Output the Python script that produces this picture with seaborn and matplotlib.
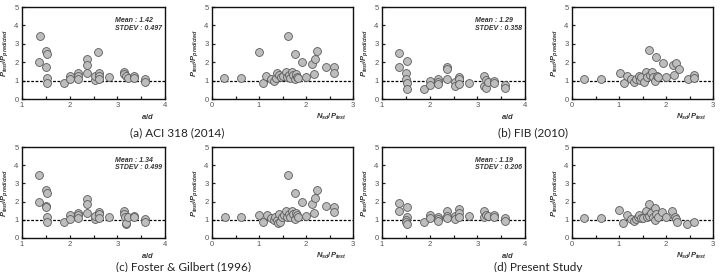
import numpy as np
import pandas as pd
import matplotlib
matplotlib.use("Agg")
import matplotlib.pyplot as plt
from matplotlib.ticker import MultipleLocator
import seaborn as sns

# a/d panels
aci_ad = [1.38, 1.36, 1.50, 1.52, 1.50, 1.53, 1.53, 1.89, 2.01, 2.01, 2.17, 2.17, 2.17,
          2.37, 2.37, 2.37, 2.53, 2.53, 2.59, 2.61, 2.61, 2.61, 2.83, 3.15, 3.15, 3.18,
          3.23, 3.34, 3.34, 3.59, 3.59]
aci_ad_ratio = [3.45, 1.99, 2.61, 2.45, 1.72, 1.15, 0.89, 0.89, 1.24, 1.06, 1.39, 1.24, 1.09,
                2.15, 1.86, 1.39, 1.02, 1.24, 2.54, 1.42, 1.24, 1.08, 1.17, 1.48, 1.35, 1.24,
                1.15, 1.24, 1.15, 1.06, 0.93]

fib_ad = [1.36, 1.36, 1.52, 1.50, 1.50, 1.52, 1.52, 1.89, 2.01, 2.01, 2.17, 2.17, 2.17,
          2.37, 2.37, 2.37, 2.53, 2.53, 2.61, 2.61, 2.61, 2.83, 3.15, 3.15, 3.18, 3.18,
          3.23, 3.34, 3.34, 3.59, 3.59]
fib_ad_ratio = [2.50, 1.73, 2.06, 1.42, 1.11, 0.88, 0.57, 0.57, 0.99, 0.77, 1.09, 0.91, 0.80,
                1.72, 1.62, 1.08, 0.93, 0.69, 1.20, 1.06, 0.84, 0.89, 1.24, 0.69, 0.62, 1.02,
                0.93, 0.99, 0.89, 0.78, 0.58]

fg_ad = [1.36, 1.35, 1.50, 1.52, 1.50, 1.50, 1.52, 1.52, 1.89, 2.01, 2.01, 2.17, 2.17, 2.17,
         2.37, 2.37, 2.37, 2.53, 2.53, 2.61, 2.61, 2.61, 2.83, 3.15, 3.15, 3.17, 3.18, 3.18,
         3.23, 3.34, 3.34, 3.59, 3.59]
fg_ad_ratio = [3.47, 2.00, 2.63, 2.46, 1.75, 1.69, 1.14, 0.86, 0.88, 1.25, 1.07, 1.40, 1.25,
               1.10, 2.15, 1.88, 1.36, 1.03, 1.21, 1.43, 1.31, 1.10, 1.18, 1.47, 1.32, 1.18,
               0.77, 0.85, 1.18, 1.21, 1.14, 1.07, 0.90]

ps_ad = [1.36, 1.35, 1.52, 1.52, 1.50, 1.50, 1.52, 1.89, 2.01, 2.01, 2.17, 2.17, 2.17,
         2.37, 2.37, 2.37, 2.53, 2.53, 2.61, 2.61, 2.61, 2.83, 3.15, 3.15, 3.18, 3.23,
         3.34, 3.34, 3.59, 3.59]
ps_ad_ratio = [1.95, 1.51, 1.69, 1.18, 0.99, 0.88, 0.79, 0.90, 1.27, 1.10, 1.18, 1.03, 0.92,
               1.51, 1.21, 1.12, 1.23, 1.03, 1.58, 1.36, 1.18, 1.21, 1.51, 1.14, 1.25, 1.21,
               1.29, 1.18, 1.10, 0.96]

# Nsd/Ptest panels
aci_n = [0.25, 0.61, 1.00, 1.09, 1.15, 1.25, 1.31, 1.36, 1.39, 1.42, 1.46, 1.52, 1.57, 1.59,
         1.62, 1.63, 1.67, 1.70, 1.73, 1.76, 1.76, 1.79, 1.81, 1.84, 1.91, 2.00, 2.12, 2.17,
         2.20, 2.24, 2.43, 2.60, 2.60]
aci_n_ratio = [1.13, 1.13, 2.54, 0.89, 1.24, 1.08, 0.97, 1.15, 1.40, 1.31, 1.17, 1.26, 1.48,
               1.17, 3.45, 1.31, 1.15, 1.48, 1.28, 2.45, 1.06, 1.35, 1.22, 1.15, 1.99, 1.20,
               1.88, 1.35, 2.15, 2.61, 1.75, 1.72, 1.39]

fib_n = [0.25, 0.61, 1.02, 1.11, 1.18, 1.26, 1.32, 1.36, 1.42, 1.45, 1.47, 1.53, 1.57, 1.60,
         1.63, 1.67, 1.70, 1.73, 1.76, 1.79, 1.80, 1.84, 1.93, 2.00, 2.14, 2.18, 2.22, 2.27,
         2.46, 2.60, 2.60]
fib_n_ratio = [1.11, 1.11, 1.42, 0.86, 1.24, 1.06, 0.93, 1.09, 1.26, 1.02, 1.17, 0.93, 1.48,
               1.20, 2.68, 1.31, 1.48, 1.17, 0.99, 2.26, 1.24, 1.17, 1.97, 1.17, 1.86, 1.33,
               1.93, 1.64, 1.11, 1.30, 1.13]

fg_n = [0.27, 0.62, 1.01, 1.09, 1.16, 1.25, 1.31, 1.35, 1.38, 1.40, 1.43, 1.45, 1.48, 1.53,
        1.57, 1.59, 1.62, 1.63, 1.67, 1.70, 1.73, 1.76, 1.76, 1.79, 1.81, 1.84, 1.91, 2.00,
        2.12, 2.17, 2.20, 2.24, 2.43, 2.60, 2.60]
fg_n_ratio = [1.18, 1.18, 1.27, 0.90, 1.27, 1.10, 0.99, 1.18, 0.99, 0.81, 1.32, 0.90, 1.18,
              1.29, 1.51, 1.18, 3.47, 1.32, 1.18, 1.51, 1.32, 2.46, 1.07, 1.40, 1.25, 1.18,
              2.00, 1.21, 1.88, 1.36, 2.19, 2.63, 1.75, 1.72, 1.43]

ps_n = [0.26, 0.61, 1.01, 1.09, 1.16, 1.25, 1.32, 1.36, 1.40, 1.43, 1.47, 1.52, 1.57, 1.59,
        1.63, 1.64, 1.69, 1.73, 1.76, 1.76, 1.79, 1.84, 1.91, 2.00, 2.12, 2.19, 2.21, 2.24,
        2.44, 2.60]
ps_n_ratio = [1.12, 1.12, 1.53, 0.85, 1.25, 1.07, 0.92, 1.07, 1.18, 1.25, 1.10, 1.10, 1.47,
              1.18, 1.88, 1.21, 1.40, 1.18, 1.64, 0.99, 1.31, 1.18, 1.43, 1.18, 1.47, 1.14,
              1.07, 0.90, 0.75, 0.88]

mean_text = ["Mean : 1.42", "Mean : 1.29", "Mean : 1.34", "Mean : 1.19"]
stdev_text = ["STDEV : 0.497", "STDEV : 0.358", "STDEV : 0.499", "STDEV : 0.206"]
captions = ["(a) ACI 318 (2014)", "(b) FIB (2010)",
            "(c) Foster & Gilbert (1996)", "(d) Present Study"]

sns.set_style("ticks")
plt.rcParams["font.family"] = ["Liberation Sans", "DejaVu Sans"]
plt.rcParams["mathtext.fontset"] = "custom"
plt.rcParams["mathtext.it"] = "Liberation Sans:italic:bold"
plt.rcParams["mathtext.rm"] = "Liberation Sans:bold"

fig = plt.figure(figsize=(7.21, 2.72), dpi=100)

col_left = [22, 212, 382, 572]
col_width = [143, 141, 143, 141]
row_top = [7, 147]
row_height = [92, 91]

panels = [
    (aci_ad, aci_ad_ratio, aci_n, aci_n_ratio, 0, 0),
    (fib_ad, fib_ad_ratio, fib_n, fib_n_ratio, 0, 2),
    (fg_ad, fg_ad_ratio, fg_n, fg_n_ratio, 1, 0),
    (ps_ad, ps_ad_ratio, ps_n, ps_n_ratio, 1, 2),
]


def make_ax(row, col):
    left = col_left[col] / 721
    width = col_width[col] / 721
    bottom = 1 - (row_top[row] + row_height[row]) / 272
    height = row_height[row] / 272
    return fig.add_axes([left, bottom, width, height])


def style_ax(ax, xlim, xticks, xlabel, xlabel_x):
    ax.set_xlim(*xlim)
    ax.set_ylim(0, 5)
    ax.set_xticks(xticks)
    ax.set_yticks(range(0, 6))
    ax.xaxis.set_minor_locator(MultipleLocator(0.5))
    ax.axhline(1, color="black", lw=0.9, ls=(0, (2.2, 1.3)), zorder=1)
    ax.tick_params(which="both", direction="in", width=0.9, labelsize=5.5,
                   pad=2.5, colors="#222222", labelcolor="#555555")
    ax.tick_params(which="major", length=2.5)
    ax.tick_params(which="minor", length=2)
    for s in ax.spines.values():
        s.set_linewidth(1.0)
        s.set_color("#111111")
    ax.set_xlabel("")
    ax.set_ylabel(r"$P_{test}/P_{predicted}$", fontsize=5.5, labelpad=3,
                  color="#333333")
    ax.text(xlabel_x, -0.14, xlabel, transform=ax.transAxes, fontsize=5.5,
            ha="center", va="top", color="#333333")


for i, (ad, ad_r, n, n_r, row, col) in enumerate(panels):
    ax1 = make_ax(row, col)
    sns.scatterplot(x=ad, y=ad_r, ax=ax1, s=32, color="#bdbdbd",
                    edgecolor="#5a5a5a", linewidth=0.6, zorder=3)
    style_ax(ax1, (1, 4), [1, 2, 3, 4], r"$a/d$", 0.88)
    ax1.text(2.95, 4.25, mean_text[i], fontsize=5, fontweight="bold",
             fontstyle="italic", color="#333333", va="center")
    ax1.text(2.95, 3.85, stdev_text[i], fontsize=5, fontweight="bold",
             fontstyle="italic", color="#333333", va="center")

    ax2 = make_ax(row, col + 1)
    sns.scatterplot(x=n, y=n_r, ax=ax2, s=32, color="#bdbdbd",
                    edgecolor="#5a5a5a", linewidth=0.6, zorder=3)
    style_ax(ax2, (0, 3), [0, 1, 2, 3], r"$N_{sd}/P_{test}$", 0.85)

cap_pos = [(177, 133), (533, 133), (183, 267), (538, 267)]
for cap, (cx, cy) in zip(captions, cap_pos):
    fig.text(cx / 721, 1 - cy / 272, cap, ha="center", va="center",
             fontsize=8.5, family=["Lato", "DejaVu Sans"], color="#222222")

fig.savefig("out.png", dpi=100)
